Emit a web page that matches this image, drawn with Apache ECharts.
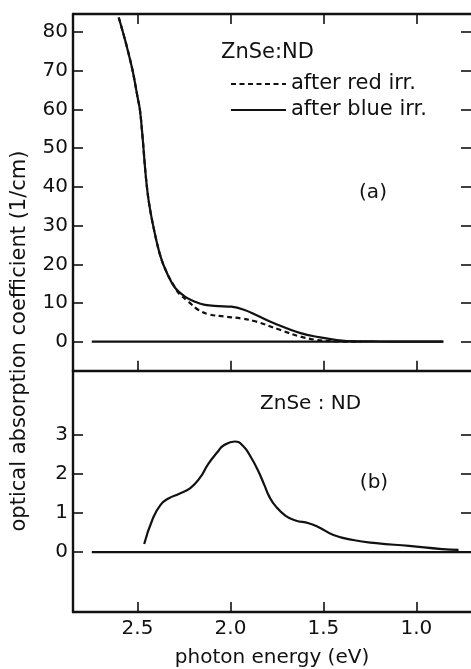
<!DOCTYPE html>
<html>
<head>
<meta charset="utf-8">
<script src="https://cdn.jsdelivr.net/npm/echarts@6/dist/echarts.min.js"></script>
<style>
html,body{margin:0;padding:0;background:#fff;}
#chart{width:471px;height:669px;}
</style>
</head>
<body>
<div id="chart"></div>
<script>
// ---- data ----
var energyTicks = [2.5, 2.0, 1.5, 1.0];
var topTicks = [0, 10, 20, 30, 40, 50, 60, 70, 80];
var bottomTicks = [0, 1, 2, 3];

// panel (a): after blue irradiation (solid)
var blueE = [2.601, 2.562, 2.527, 2.500, 2.487, 2.473, 2.455, 2.438, 2.411, 2.376, 2.341, 2.296, 2.243, 2.190, 2.137, 2.066, 1.995, 1.924, 1.862, 1.765, 1.623, 1.517, 1.428, 1.322, 1.20, 1.05, 0.855];
var blueA = [83.8, 77.1, 70.2, 63.3, 59.9, 53.0, 42.6, 35.8, 28.9, 22.0, 17.7, 13.8, 11.6, 10.3, 9.5, 9.2, 9.05, 8.2, 6.9, 4.75, 2.2, 1.1, 0.44, 0.1, 0.05, 0.02, 0];

// panel (a): after red irradiation (dashed)
var redE = [2.601, 2.562, 2.527, 2.500, 2.487, 2.473, 2.455, 2.438, 2.411, 2.376, 2.341, 2.296, 2.278, 2.225, 2.172, 2.119, 2.030, 1.942, 1.862, 1.730, 1.623, 1.535, 1.45, 1.30];
var redA = [83.8, 77.1, 70.2, 63.3, 59.9, 53.0, 42.6, 35.8, 28.9, 22.0, 17.7, 13.8, 12.5, 10.3, 8.2, 7.1, 6.5, 6.0, 5.2, 3.0, 1.3, 0.44, 0.1, 0];

// panel (b): difference spectrum
var diffE = [2.464, 2.420, 2.376, 2.331, 2.278, 2.216, 2.163, 2.119, 2.066, 2.039, 1.977, 1.933, 1.889, 1.853, 1.818, 1.791, 1.756, 1.703, 1.650, 1.579, 1.525, 1.446, 1.340, 1.216, 1.039, 0.862, 0.773];
var diffA = [0.21, 0.83, 1.21, 1.38, 1.49, 1.64, 1.91, 2.26, 2.58, 2.72, 2.83, 2.72, 2.42, 2.10, 1.72, 1.42, 1.17, 0.93, 0.81, 0.74, 0.64, 0.44, 0.31, 0.23, 0.16, 0.08, 0.06];

// zero baselines
var baseTopE = [2.746, 0.855];
var baseBotE = [2.746, 0.70];
var baseA = [0, 0];

function pairs(xs, ys) { return xs.map(function (x, i) { return [x, ys[i]]; }); }

var FONT = 'DejaVu Sans';
var BLACK = '#111';
var chart = echarts.init(document.getElementById('chart'), null, {renderer: 'canvas'});

var lineW = 2.2;
function xAxisBase(gridIndex, position, showLabels) {
  return {
    type: 'value', gridIndex: gridIndex, position: position, inverse: true,
    min: 0.706, max: 2.847,
    axisLine: {show: true, onZero: false, lineStyle: {color: BLACK, width: 2.4}},
    axisTick: {show: true, inside: true, length: 10, customValues: energyTicks, lineStyle: {color: BLACK, width: 1.6}},
    axisLabel: {show: showLabels, customValues: energyTicks, margin: 7, color: BLACK, fontFamily: FONT, fontSize: 20,
      formatter: function (v) { return v.toFixed(1); }},
    splitLine: {show: false}
  };
}
function yAxisBase(gridIndex, position, min, max, ticks, showLabels) {
  return {
    type: 'value', gridIndex: gridIndex, position: position, min: min, max: max,
    axisLine: {show: position === 'left', onZero: false, lineStyle: {color: BLACK, width: 2.4}},
    axisTick: {show: true, inside: true, length: 10, customValues: ticks, lineStyle: {color: BLACK, width: 1.6}},
    axisLabel: {show: showLabels, customValues: ticks, margin: 5, color: BLACK, fontFamily: FONT, fontSize: 20},
    splitLine: {show: false}
  };
}

var option = {
  backgroundColor: '#fff',
  animation: false,
  grid: [
    {left: 73, top: 14, width: 403, height: 356.7},
    {left: 73, top: 370.7, width: 403, height: 241.3}
  ],
  xAxis: [
    xAxisBase(0, 'bottom', false),
    xAxisBase(0, 'top', false),
    Object.assign(xAxisBase(1, 'bottom', true), {
      name: 'photon energy (eV)', nameLocation: 'middle', nameGap: 36,
      nameTextStyle: {color: BLACK, fontFamily: FONT, fontSize: 20}
    })
  ],
  yAxis: [
    yAxisBase(0, 'left', -7.5, 84.7, topTicks, true),
    yAxisBase(0, 'right', -7.5, 84.7, topTicks, false),
    yAxisBase(1, 'left', -1.53, 4.64, bottomTicks, true),
    yAxisBase(1, 'right', -1.53, 4.64, bottomTicks, false)
  ],
  legend: {
    left: 230, top: 73, padding: 0, orient: 'vertical', itemWidth: 55, itemHeight: 14, itemGap: 4,
    data: ['after red irr.', 'after blue irr.'],
    itemStyle: {opacity: 0, borderWidth: 0},
    textStyle: {color: BLACK, fontFamily: FONT, fontSize: 21, lineHeight: 22},
    selectedMode: false
  },
  series: [
    {name: 'after blue irr.', type: 'line', xAxisIndex: 0, yAxisIndex: 0, data: pairs(blueE, blueA),
      smooth: 0.4, symbol: 'none', itemStyle: {color: BLACK}, lineStyle: {color: BLACK, width: lineW}, z: 3},
    {name: 'after red irr.', type: 'line', xAxisIndex: 0, yAxisIndex: 0, data: pairs(redE, redA),
      smooth: 0.4, symbol: 'none', itemStyle: {color: BLACK}, lineStyle: {color: BLACK, width: lineW, type: [5, 3.5]}, z: 2},
    {name: 'base a', type: 'line', xAxisIndex: 0, yAxisIndex: 0, data: pairs(baseTopE, baseA),
      symbol: 'none', lineStyle: {color: BLACK, width: 2.2}},
    {name: 'diff', type: 'line', xAxisIndex: 2, yAxisIndex: 2, data: pairs(diffE, diffA),
      smooth: 0.5, symbol: 'none', lineStyle: {color: BLACK, width: lineW}},
    {name: 'base b', type: 'line', xAxisIndex: 2, yAxisIndex: 2, data: pairs(baseBotE, baseA),
      symbol: 'none', lineStyle: {color: BLACK, width: 2.2}}
  ],
  graphic: [
    {type: 'text', left: 221, top: 42, style: {text: 'ZnSe:ND', fill: BLACK, font: '21px "' + FONT + '"'}},
    {type: 'text', x: 373, y: 193, style: {text: '(a)', fill: BLACK, font: '20px "' + FONT + '"', align: 'center', verticalAlign: 'middle'}},
    {type: 'text', left: 260, top: 394, style: {text: 'ZnSe : ND', fill: BLACK, font: '20px "' + FONT + '"'}},
    {type: 'text', x: 374, y: 483, style: {text: '(b)', fill: BLACK, font: '20px "' + FONT + '"', align: 'center', verticalAlign: 'middle'}},
    {type: 'text', x: 20, y: 341, rotation: Math.PI / 2,
      style: {text: 'optical absorption coefficient (1/cm)', fill: BLACK, font: '21px "' + FONT + '"', align: 'center', verticalAlign: 'middle'}}
  ]
};
chart.setOption(option);
</script>
</body>
</html>
